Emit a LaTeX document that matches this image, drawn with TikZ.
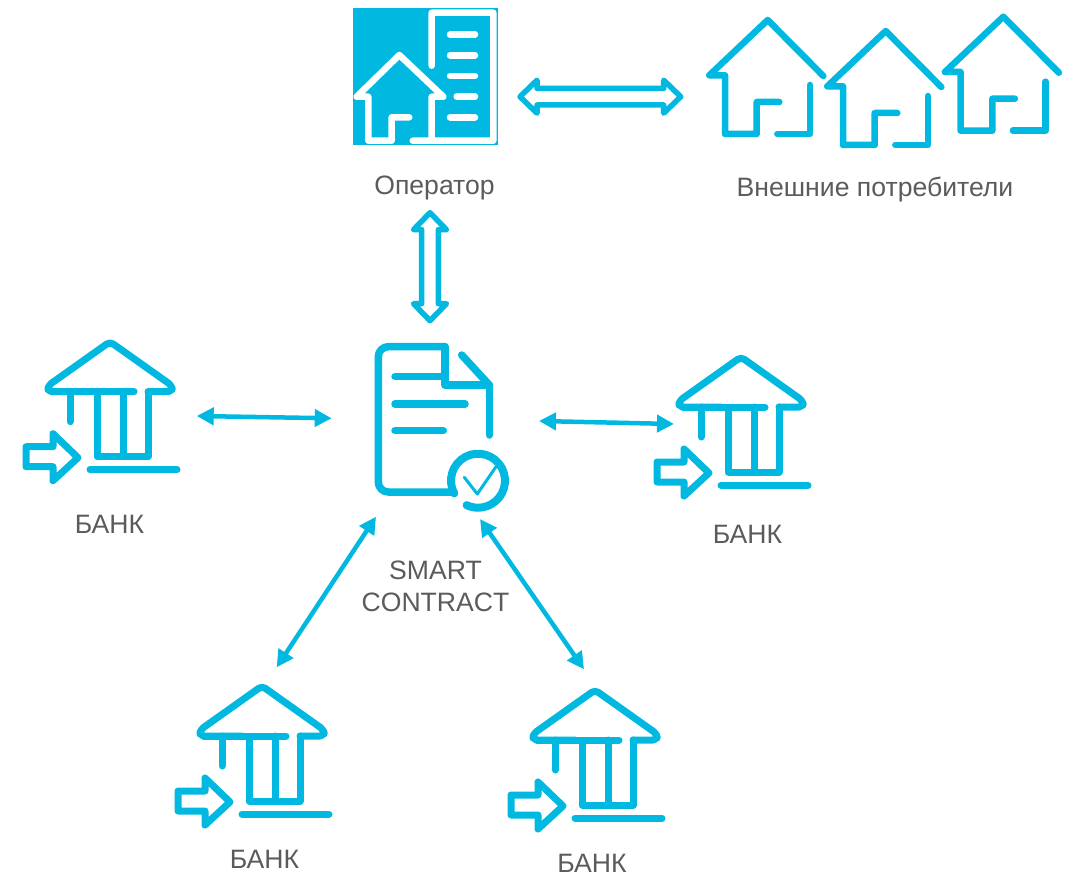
\documentclass[tikz,border=0pt]{standalone}
\usepackage{fontspec}
\setmainfont{Liberation Sans}
\usetikzlibrary{arrows.meta,calc}
\definecolor{iconblue}{HTML}{00B8E0}
\definecolor{labelgray}{HTML}{5B5B5B}
\tikzset{
	icon/.style = {draw = iconblue, line width = 6.5pt, line cap = round, line join = round},
	whiteicon/.style = {draw = white, line width = 6.5pt, line cap = round, line join = round},
	label/.style = {text = labelgray, inner sep = 0pt, font = \fontsize{26.6}{32}\selectfont},
	link/.style = {draw = iconblue, line width = 4.5pt, {Triangle[length = 17pt, width = 17pt]}-{Triangle[length = 17pt, width = 17pt]}},
	fatarrow/.style = {draw = iconblue, line width = 5.5pt, line join = round, line cap = round, to path = {
		let \p1 = ($(\tikztotarget)-(\tikztostart)$), \n1 = {veclen(\x1,\y1)}, \n2 = {atan2(\y1,\x1)} in
		[shift = {(\tikztostart)}, rotate = \n2]
		(0,0) -- (17,-16.5) -- (17,-8.3) -- ({\n1-17},-8.3) -- ({\n1-17},-16.5) -- (\n1,0)
		-- ({\n1-17},16.5) -- ({\n1-17},8.3) -- (17,8.3) -- (17,16.5) -- cycle}},
	bankicon/.pic = {
		\draw[icon, line width = 7pt, rounded corners = 4pt] (-20,50) -- (-62,50) -- (-62,44) -- (0,0) -- (62,44) -- (62,50) -- (38,50);
		\draw[icon, line width = 7pt] (38,50) -- (38,115) -- (-13,115) -- (-13,50) -- (-58,50);
		\draw[icon, line width = 7pt] (-20,50) -- (24,50);
		\draw[icon, line width = 7pt] (-40,50) -- (-40,80);
		\draw[icon, line width = 7pt] (13,50) -- (13,115);
		\draw[icon, line width = 7pt] (-20,128) -- (67,128);
		\draw[icon, line width = 7pt] (-84,105) -- (-57,105) -- (-57,92) -- (-32,116) -- (-57,139) -- (-57,125) -- (-84,125) -- cycle;
	},
	houseicon/.pic = {
		\draw[icon] (55.6,56) -- (0,0) -- (-58.4,55.3) -- (-42.7,55.3) -- (-42.7,114) -- (-11,114) -- (-11,82) -- (11.6,82);
		\draw[icon] (42.3,65) -- (42.3,114) -- (9.6,114);
	}
}
\begin{document}
\begin{tikzpicture}[x = 1pt, y = -1pt]
	\useasboundingbox (0,0) rectangle (1070,877);
	% operator
	\fill[iconblue] (352.7,8.3) rectangle (498.3,145);
	\draw[whiteicon]
	(431.7,65.7) -- (431.7,12.7) -- (493.3,12.7) -- (493.3,140.7) -- (412.7,140.7)
	(399.3,55) -- (356.7,96.7) -- (368.3,96.7) -- (368.3,140.7) -- (391.7,140.7) -- (391.7,117.3) -- (409.3,117.3)
	(399.3,55) -- (443.3,96.7) -- (431.7,96.7) -- (431.7,140.7);
	\foreach \y/\x in {34.7/450, 55.3/450, 76/450, 96.7/456.7, 117.3/450}
		\draw[whiteicon] (\x,\y) -- (475,\y);
	\node[label] (OPER) at (434.5,188) {Оператор};
	% consumers
	\path (767.7,20) pic {houseicon} (885.7,31) pic {houseicon} (1003.3,16.7) pic {houseicon};
	\node[label] (CONS) at (875,190) {Внешние потребители};
	% smart contract
	\draw[icon, line width = 7.5pt, rounded corners = 10pt] (454,492) -- (378.3,492) -- (378.3,346.7) -- (445,346.7);
	\draw[icon, line width = 7.5pt] (445,346.7) -- (445,385) -- (489.3,385) -- (489.3,435);
	\draw[icon, line width = 7.5pt] (461.7,355) -- (489.3,385);
	\draw[icon, line width = 7.5pt]
	(395,376.7) -- (445,376.7)
	(395,404) -- (465,404)
	(395,430.7) -- (443.3,430.7);
	\draw[icon, line width = 8pt] (478,480.7) ++(208:27pt) arc[start angle = 208, end angle = -115, radius = 27pt];
	\draw[icon, line width = 3pt] (464.3,477.3) -- (477.3,494) -- (496,466.7);
	\node[label, align = center] (SC) at (435.5,586) {SMART\\CONTRACT};
	% banks
	\path (110,341.7) pic {bankicon} (741,357) pic {bankicon} (262,686) pic {bankicon} (595,690) pic {bankicon};
	\node[label] (B1) at (109.5,524.5) {БАНК};
	\node[label] (B2) at (747.5,534.5) {БАНК};
	\node[label] (B3) at (264.5,859.5) {БАНК};
	\node[label] (B4) at (592,863.5) {БАНК};
	% connectors
	\coordinate (FA1) at (520,96.7);
	\coordinate (FA2) at (680.7,96.7);
	\coordinate (FA3) at (430,212.7);
	\coordinate (FA4) at (430,320.7);
	\draw[fatarrow] (FA1) to (FA2);
	\draw[fatarrow] (FA3) to (FA4);
	\coordinate (L1) at (196.7,416);
	\coordinate (L2) at (331.7,418.3);
	\coordinate (L3) at (539,421);
	\coordinate (L4) at (674,424);
	\coordinate (L5) at (376,516.7);
	\coordinate (L6) at (276.7,667.3);
	\coordinate (L7) at (480,519);
	\coordinate (L8) at (584,669.3);
	\draw[link] (L1) -- (L2);
	\draw[link] (L3) -- (L4);
	\draw[link] (L5) -- (L6);
	\draw[link] (L7) -- (L8);
\end{tikzpicture}
\end{document}
